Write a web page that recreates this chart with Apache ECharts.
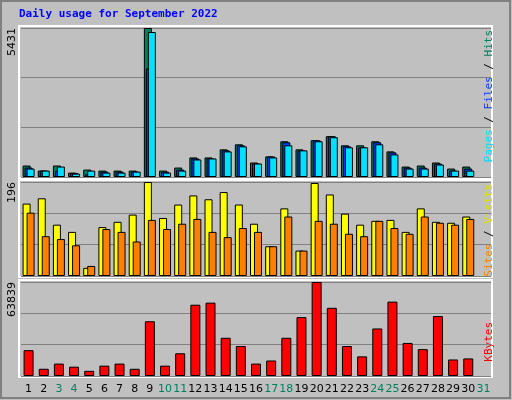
<!doctype html>
<html>
<head>
<meta charset="UTF-8">
<title>Daily usage for September 2022</title>
<script src="https://cdn.jsdelivr.net/npm/echarts@6/dist/echarts.min.js"></script>
<style>body{margin:0;background:#c0c0c0}</style>
</head>
<body>
<div id="main" style="width:512px;height:400px;"></div>
<script>
var days = [];
for (var d = 1; d <= 31; d++) days.push(String(d));
var weekend = ['3', '4', '10', '11', '17', '18', '24', '25', '31'];

var hits  = [418,233,418,160,270,233,233,233,5431,233,344,713,713,1008,1192,528,750,1302,1008,1339,1487,1155,1155,1302,934,381,418,528,307,381];
var files = [344,233,221,147,98,197,197,197,3956,197,270,676,676,971,1155,491,750,1266,971,1339,1487,1118,1081,1266,897,344,344,491,233,307];
var pages = [307,233,381,123,233,160,160,197,5284,160,233,639,676,934,1118,491,713,1155,971,1302,1450,1081,1081,1192,823,307,307,455,233,233];
var visits = [151,162,107,92,17,102,113,128,196,121,149,168,160,175,149,109,62,141,53,194,170,130,107,115,117,92,141,113,111,124];
var sites  = [132,83,77,64,21,98,92,72,117,98,109,119,92,81,100,92,62,124,53,115,109,88,83,115,100,88,124,111,107,119];
var kbytes = [17538,4911,8418,6314,3508,7015,8418,4911,37181,7015,15434,48405,49808,25956,20344,8418,10523,25956,39987,63839,46301,20344,13329,32270,50510,22449,18240,40688,11224,11926];
var maxHits = 5431, maxVisits = 196, maxKbytes = 63839;

// 基于准备好的dom，初始化echarts实例
var myChart = echarts.init(document.getElementById('main'));

var grids = [
    {left: 21, right: 21, top: 28, height: 149},
    {left: 21, right: 21, top: 182, height: 94},
    {left: 21, right: 21, top: 282, height: 94}
];
var maxes = [maxHits, maxVisits, maxKbytes];

function xAxis(i) {
    return {
        type: 'category', gridIndex: i, data: days,
        axisLine: {show: false}, axisTick: {show: false},
        axisLabel: {
            show: i === 2, interval: 0, fontFamily: 'DejaVu Sans', fontSize: 11, margin: 8,
            color: function (v) { return weekend.indexOf(v) >= 0 ? '#008060' : '#000'; }
        }
    };
}
function yAxis(i) {
    return {
        type: 'value', gridIndex: i, min: 0, max: maxes[i], interval: maxes[i] / 3,
        axisLine: {show: false}, axisTick: {show: false}, axisLabel: {show: false},
        splitLine: {lineStyle: {color: '#808080', width: 1}}
    };
}
function bar(name, data, i, color, width, gap) {
    return {
        name: name, type: 'bar', xAxisIndex: i, yAxisIndex: i, data: data,
        barWidth: width, barGap: gap, animation: false,
        itemStyle: {color: color, borderColor: '#000', borderWidth: 1}
    };
}
function frame(g) {
    return {
        type: 'rect', silent: true, z: -1,
        shape: {x: g.left - 2, y: g.top - 2, width: 512 - g.left - g.right + 3, height: g.height + 3},
        style: {fill: '#c0c0c0', stroke: '#ffffff', lineWidth: 2}
    };
}
function sideText(txt, x, y) {
    return {
        type: 'text', x: x, y: y, rotation: Math.PI / 2,
        style: {text: txt, fontFamily: 'DejaVu Sans', fontSize: 11, fill: '#000', align: 'right', verticalAlign: 'top'}
    };
}
function rightText(parts, y) {
    return {
        type: 'text', x: 495, y: y, rotation: Math.PI / 2,
        style: {
            text: parts.map(function (p, k) { return '{c' + k + '|' + p[0] + '}'; }).join(''),
            fontFamily: 'DejaVu Sans Mono', fontSize: 11, align: 'right', verticalAlign: 'bottom',
            rich: (function () {
                var r = {};
                parts.forEach(function (p, k) { r['c' + k] = {fill: p[1], fontFamily: 'DejaVu Sans Mono', fontSize: 11}; });
                return r;
            })()
        }
    };
}

var option = {
    backgroundColor: '#c0c0c0',
    grid: grids,
    xAxis: [xAxis(0), xAxis(1), xAxis(2)],
    yAxis: [yAxis(0), yAxis(1), yAxis(2)],
    graphic: [
        {type: 'rect', silent: true, z: -2, shape: {x: 1, y: 1, width: 509, height: 397},
         style: {fill: 'none', stroke: '#808080', lineWidth: 2}},
        frame(grids[0]), frame(grids[1]), frame(grids[2]),
        {type: 'text', x: 19, y: 9,
         style: {text: 'Daily usage for September 2022', fontFamily: 'DejaVu Sans Mono', fontWeight: 'bold', fontSize: 11, fill: '#0000ff'}},
        sideText(String(maxHits), 7, 28),
        sideText(String(maxVisits), 7, 182),
        sideText(String(maxKbytes), 7, 282),
        rightText([['Pages', '#00e0ff'], [' / ', '#000'], ['Files', '#0040ff'], [' / ', '#000'], ['Hits', '#008060']], 30),
        rightText([['Sites', '#ff8000'], [' / ', '#000'], ['Visits', '#e0e000']], 184),
        rightText([['KBytes', '#ff0000']], 322)
    ],
    series: [
        bar('Hits', hits, 0, '#008060', 8, '-75%'),
        bar('Files', files, 0, '#0040ff', 8, '-75%'),
        bar('Pages', pages, 0, '#00e0ff', 8, '-75%'),
        bar('Visits', visits, 1, '#ffff00', 8, '-50%'),
        bar('Sites', sites, 1, '#ff8000', 8, '-50%'),
        bar('KBytes', kbytes, 2, '#ff0000', 10, '0%')
    ]
};
myChart.setOption(option);
</script>
</body>
</html>
